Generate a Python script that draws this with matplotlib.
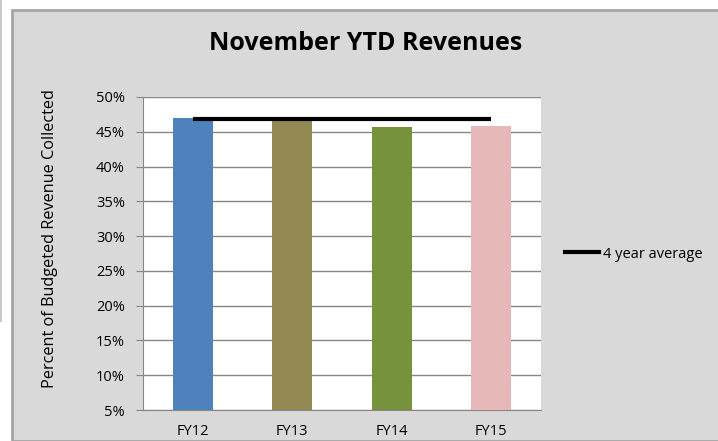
import matplotlib.pyplot as plt
from matplotlib.patches import Rectangle
from matplotlib.lines import Line2D
from matplotlib.ticker import FuncFormatter

years = ["FY12", "FY13", "FY14", "FY15"]
collected = [0.470, 0.466, 0.457, 0.459]
four_year_avg = 0.468
bar_colors = ["#4f81bd", "#938953", "#76923c", "#e6b9b8"]

W, H = 718, 441
fig = plt.figure(figsize=(W / 100, H / 100), dpi=100)
fig.patch.set_facecolor("white")

# chart area frame, behind the axes
fig.patches.append(Rectangle((12 / W, 0), 1, 1 - 10 / H, transform=fig.transFigure,
                             facecolor="#d9d9d9", edgecolor="#a6a6a6", lw=2, zorder=-10))
fig.patches.append(Rectangle((0, 1 - 322 / H), 2 / W, 322 / H, transform=fig.transFigure,
                             facecolor="#c8c8c8", edgecolor="none", zorder=-10))

ax = fig.add_axes([143 / W, 31 / H, 398 / W, 313 / H])
ax.set_facecolor("white")

x = range(len(years))
ax.bar(x, collected, width=0.4, color=bar_colors, zorder=3)
ax.plot([0, len(years) - 1], [four_year_avg] * 2, color="black", lw=3,
        solid_capstyle="butt", zorder=4)

ax.set_xlim(-0.5, len(years) - 0.5)
ax.set_ylim(0.05, 0.50)
ax.set_yticks([i * 0.05 for i in range(1, 11)])
ax.yaxis.set_major_formatter(FuncFormatter(lambda v, p: f"{v * 100:.0f}%"))
ax.set_xticks(list(x))
ax.set_xticklabels(years)
ax.grid(axis="y", color="#868686", lw=1, zorder=1)

for s in ["top", "right"]:
    ax.spines[s].set_visible(False)
for s in ["left", "bottom"]:
    ax.spines[s].set_color("#868686")
ax.tick_params(axis="y", length=5, color="#868686", labelsize=10.5, pad=8)
ax.tick_params(axis="x", length=0, labelsize=10.5, pad=10)

font = "Open Sans"
for lbl in ax.get_xticklabels() + ax.get_yticklabels():
    lbl.set_family(font)

fig.text(50 / W, 1 - 239 / H, "Percent of Budgeted Revenue Collected", rotation=90,
         ha="center", va="center", family=font, fontsize=11.7)

fig.text(366 / W, 1 - 44 / H, "November YTD Revenues", ha="center", va="center",
         family=font, fontsize=18, fontweight="bold")

leg = ax.legend([Line2D([], [], color="black", lw=3)], ["4 year average"],
                loc="center left", bbox_to_anchor=(552 / W, 1 - 254 / H),
                bbox_transform=fig.transFigure, frameon=False, handlelength=2.3,
                handletextpad=0.3, prop={"family": font, "size": 10.5})

fig.savefig("out.png", dpi=100)
